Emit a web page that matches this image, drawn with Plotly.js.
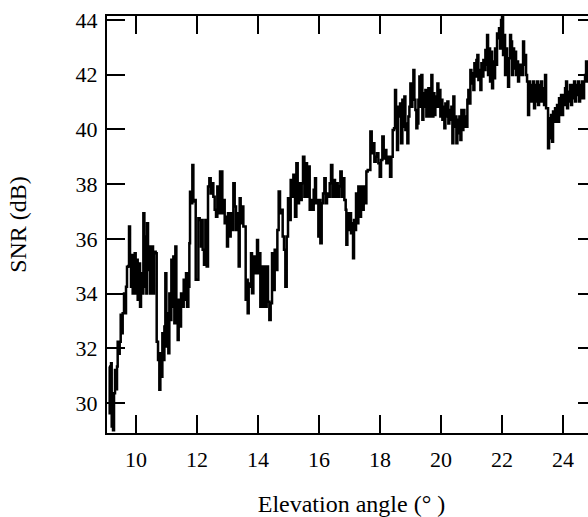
<!DOCTYPE html>
<html>
<head>
<meta charset="utf-8">
<script src="https://cdn.plot.ly/plotly-3.0.1.min.js"></script>
<style>
html,body{margin:0;padding:0;overflow:hidden;background:#fff;}
#chart{width:597px;height:517px;}
</style>
</head>
<body>
<div id="chart"></div>
<script>
// Elevation angle (degrees)
var elevation = [
9.115,9.137,9.159,9.181,9.203,9.246,9.279,9.312,9.345,9.377,9.399,9.432,9.465,9.498,9.53,9.563,9.607,9.64,9.672,9.705,
9.749,9.771,9.804,9.836,9.858,9.891,9.924,9.957,9.989,10.022,10.055,10.088,10.132,10.164,10.197,10.241,10.274,10.306,10.339,10.361,
10.394,10.427,10.459,10.492,10.525,10.558,10.59,10.645,10.678,10.722,10.765,10.798,10.831,10.864,10.897,10.93,10.962,10.995,11.028,11.06,
11.093,11.126,11.159,11.192,11.224,11.257,11.29,11.323,11.366,11.399,11.443,11.476,11.52,11.563,11.607,11.64,11.673,11.716,11.749,11.771,
11.804,11.847,11.88,11.913,11.957,12.0,12.044,12.088,12.131,
12.153,12.185,12.229,12.273,12.317,12.36,12.404,12.448,12.492,12.535,12.579,12.623,12.666,12.71,12.754,12.797,12.83,12.863,12.907,12.95,
12.983,13.016,13.06,13.103,13.147,13.191,13.235,13.278,13.322,13.366,13.399,13.431,13.475,13.519,13.562,13.595,13.628,13.661,13.694,13.737,
13.77,13.803,13.847,13.89,13.934,13.967,14.0,14.043,14.076,14.109,14.153,14.196,14.24,14.284,14.327,14.371,14.415,14.459,14.502,14.546,
14.59,14.634,14.677,14.721,14.765,14.808,14.852,14.896,14.94,14.983,15.027,15.071,15.114,15.158,15.202,
15.213,15.257,15.3,15.344,15.388,15.432,15.475,15.519,15.563,15.606,15.65,15.694,15.738,15.781,15.825,15.869,15.901,15.934,15.978,16.011,
16.044,16.087,16.131,16.175,16.218,16.262,16.306,16.35,16.393,16.437,16.481,16.524,16.568,16.612,16.656,16.699,16.743,16.787,16.83,16.874,
16.896,16.929,16.962,17.005,17.049,17.082,17.115,17.147,17.18,17.213,17.246,17.289,17.333,17.377,17.421,17.464,17.508,17.552,17.595,17.639,
17.683,17.727,17.77,17.814,17.858,17.901,17.945,17.989,18.033,18.076,18.12,18.164,18.207,18.251,18.295,
18.328,18.372,18.415,18.459,18.492,18.525,18.557,18.59,18.623,18.656,18.689,18.732,18.765,18.798,18.831,18.864,18.896,18.929,18.962,18.995,
19.027,19.06,19.093,19.126,19.159,19.191,19.224,19.257,19.29,19.323,19.355,19.388,19.421,19.454,19.487,19.519,19.552,19.585,19.618,19.65,
19.683,19.716,19.749,19.782,19.814,19.847,19.88,19.913,19.945,19.978,20.011,20.044,20.077,20.109,20.142,20.175,20.208,20.24,20.273,20.306,
20.339,20.372,20.404,20.437,20.47,20.503,20.536,20.568,20.601,20.634,20.667,20.699,20.732,20.765,20.798,20.831,20.863,20.896,20.929,20.962,
20.995,21.027,21.06,21.093,21.126,21.159,21.191,21.224,21.257,21.29,21.323,21.355,21.388,21.421,21.454,
21.476,21.509,21.541,21.574,21.607,21.64,21.673,21.705,21.738,21.771,21.804,21.836,21.869,21.902,21.935,21.968,22.0,22.033,22.066,22.099,
22.132,22.164,22.197,22.23,22.263,22.295,22.328,22.361,22.394,22.427,22.459,22.492,22.525,22.558,22.59,22.623,22.656,22.689,22.722,22.754,
22.787,22.82,22.853,22.886,22.918,22.951,22.984,23.017,23.049,23.082,23.115,23.148,23.181,23.213,23.246,23.279,23.312,23.345,23.377,23.41,
23.443,23.476,23.508,23.541,23.574,23.607,23.64,23.672,23.705,23.738,23.771,23.803,23.836,23.869,23.902,23.935,23.967,24.0,24.033,24.066,
24.099,24.131,24.164,24.197,24.23,24.263,24.295,24.328,24.361,24.394,24.426,24.459,24.492,24.525,24.558,24.59,24.623,24.656,24.689,24.721,
24.754,24.787,24.82
];
// SNR (dB)
var snr = [
31.33,29.62,30.6,31.45,29.14,29.0,30.35,31.2,30.5,31.33,32.24,31.8,32.24,33.22,32.55,33.28,34.0,33.28,34.25,34.98,
35.01,36.45,35.29,34.25,35.41,34.0,34.74,35.47,34.0,35.23,33.77,35.1,33.52,34.74,34.0,36.93,34.25,36.08,34.0,36.57,
34.86,35.72,34.0,34.86,35.72,34.0,35.53,35.47,32.24,31.57,30.48,31.82,30.96,32.55,31.57,32.79,34.74,32.06,33.28,31.82,
34.0,33.03,35.23,33.52,35.35,32.91,35.72,33.03,32.3,33.77,32.79,34.0,33.52,34.5,33.77,34.74,33.52,34.25,35.84,37.72,
37.3,38.7,37.36,37.42,34.5,34.5,36.75,36.69,35.72,
36.69,35.6,35.05,36.69,34.99,37.91,38.21,37.66,38.03,37.54,37.06,36.81,37.91,36.93,38.46,38.46,36.93,37.42,36.57,36.81,
35.72,36.93,36.08,36.93,36.32,38.03,37.18,36.32,36.93,34.99,37.48,36.57,37.18,36.45,36.45,33.77,34.5,33.28,34.37,34.25,
35.47,34.01,35.35,34.74,34.99,35.96,34.74,35.47,33.52,34.99,33.52,34.99,33.52,34.99,33.7,33.03,33.64,35.47,34.13,35.6,
34.86,36.32,37.73,36.93,37.06,36.08,35.6,34.25,36.08,37.48,36.69,38.15,37.54,38.34,37.79,
36.81,38.76,37.3,38.03,37.42,38.03,39.0,37.54,38.76,37.54,38.64,37.06,37.42,37.06,37.79,38.21,37.3,37.42,36.08,37.42,
35.84,37.3,37.66,38.21,37.3,37.66,37.54,38.03,38.7,37.54,38.15,37.54,38.03,37.54,37.91,38.46,37.54,38.21,37.42,37.06,
35.78,36.93,36.32,36.93,36.2,36.57,35.29,36.69,36.32,37.66,36.57,37.91,36.81,37.91,37.06,37.91,37.3,38.46,38.52,38.52,
39.92,39.13,39.49,38.82,39.0,39.13,38.76,38.27,38.88,39.74,38.94,39.25,38.76,39.0,39.0,
38.27,39.0,39.98,40.04,41.44,40.71,39.25,40.83,40.47,40.95,39.49,41.08,40.1,41.2,39.98,40.22,39.49,40.47,40.83,41.68,
40.83,41.62,42.17,41.08,40.71,40.04,40.22,41.08,41.93,40.83,41.99,40.35,41.32,40.83,41.44,40.47,41.2,41.5,40.47,41.08,
41.99,40.47,41.32,40.53,41.2,40.83,41.68,40.83,41.44,40.47,41.08,40.35,40.83,40.04,40.95,40.47,41.02,40.22,40.71,40.35,
40.83,39.49,41.2,40.1,40.47,39.49,40.35,39.86,40.47,39.61,40.71,39.98,40.71,40.1,40.47,40.1,41.08,41.44,40.95,42.17,
41.68,42.05,41.44,42.42,41.93,42.54,42.72,41.81,42.17,41.44,42.42,41.93,42.54,42.17,42.9,
42.36,43.45,41.99,42.96,41.75,42.84,41.5,42.48,41.87,42.96,42.36,43.51,43.33,43.7,42.96,44.0,44.12,42.72,43.45,41.99,
42.96,42.36,41.56,42.6,43.45,43.21,41.99,42.96,42.23,42.84,41.99,42.48,41.75,42.36,41.99,42.36,41.99,43.21,42.36,42.72,
41.99,41.75,40.53,41.75,41.02,41.62,41.02,41.75,40.77,41.62,41.02,41.75,40.89,41.62,41.02,41.75,41.02,41.5,40.89,41.99,
40.77,40.77,39.31,40.41,39.68,40.53,39.55,40.65,40.28,40.77,40.28,40.89,40.28,41.14,40.53,41.26,40.53,41.26,40.89,41.5,
41.75,40.77,41.38,41.02,41.62,40.89,41.62,41.14,41.75,41.02,41.62,41.26,41.75,41.02,41.62,41.14,41.75,41.14,41.75,41.99,
42.48,41.75,42.1
];
var xTicks = [10, 12, 14, 16, 18, 20, 22, 24];
var yTicks = [30, 32, 34, 36, 38, 40, 42, 44];
var xTitle = 'Elevation angle (° )';
var yTitle = 'SNR (dB)';

var family = '"Liberation Serif", "Times New Roman", serif';
var tickFont = {family: family, size: 22, color: '#000'};
var titleFont = {family: family, size: 24, color: '#000'};

var trace = {
  x: elevation, y: snr, type: 'scatter', mode: 'lines',
  line: {color: '#000', width: 2.5, shape: 'hv'},
  hoverinfo: 'skip'
};

var axisCommon = {
  showline: true, linecolor: '#000', linewidth: 2,
  mirror: 'ticks', ticks: 'inside', ticklen: 18, tickwidth: 2, tickcolor: '#000',
  showgrid: false, zeroline: false, tickfont: tickFont, automargin: false
};

var layout = {
  width: 597, height: 517,
  margin: {l: 107, r: 1, t: 16, b: 84},
  paper_bgcolor: '#fff', plot_bgcolor: '#fff',
  showlegend: false,
  font: tickFont,
  xaxis: Object.assign({}, axisCommon, {
    range: [9.049, 25.08], tickmode: 'array', tickvals: xTicks,
    ticktext: xTicks.map(String), ticklabelstandoff: 6,
    title: {text: xTitle, font: titleFont, standoff: 28}
  }),
  yaxis: Object.assign({}, axisCommon, {
    range: [28.9, 44.146], tickmode: 'array', tickvals: yTicks,
    ticktext: yTicks.map(String), ticklabelstandoff: 3,
    title: {text: yTitle, font: titleFont, standoff: 42}
  })
};

Plotly.newPlot('chart', [trace], layout, {displayModeBar: false, staticPlot: true});
</script>
</body>
</html>
